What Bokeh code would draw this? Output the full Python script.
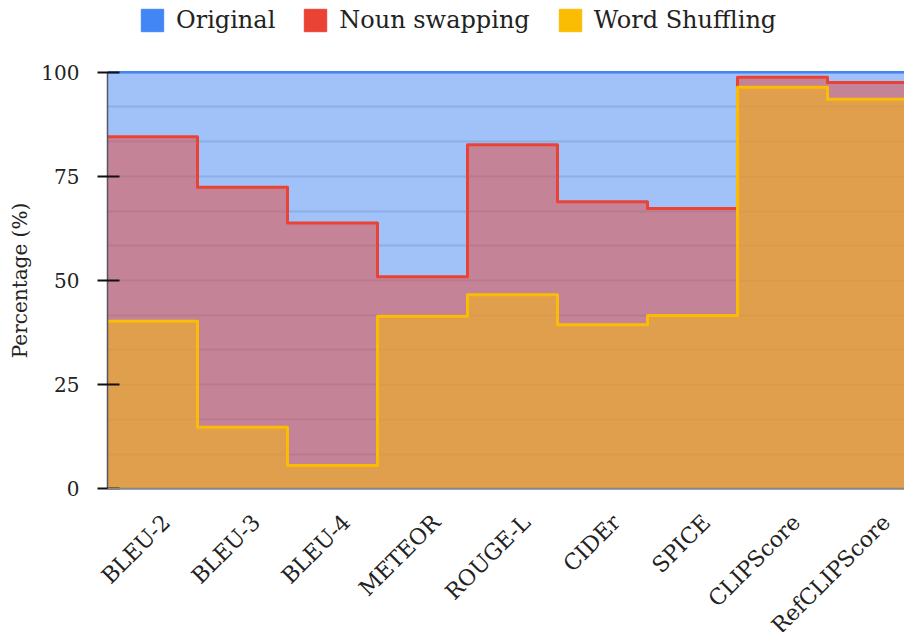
import math
from bokeh.plotting import figure
from bokeh.layouts import column
from bokeh.models import (ColumnDataSource, FixedTicker, Legend, LegendItem, Range1d, Span)
from bokeh.embed import file_html
from bokeh.resources import INLINE

categories = ["BLEU-2", "BLEU-3", "BLEU-4", "METEOR", "ROUGE-L", "CIDEr", "SPICE", "CLIPScore", "RefCLIPScore"]
original = [100, 100, 100, 100, 100, 100, 100, 100, 100]
noun_swapping = [84.5, 72.4, 63.8, 50.9, 82.6, 68.9, 67.3, 98.8, 97.5]
word_shuffling = [40.2, 14.8, 5.6, 41.4, 46.6, 39.4, 41.6, 96.4, 93.5]
y_ticks = [0, 25, 50, 75, 100]

BLUE = "#4285F4"
RED = "#EA4335"
YELLOW = "#FBBC04"
FONT = "DejaVu Serif"
TEXT = "#222222"

n = len(categories)
edges = list(range(n + 1))
BAND_PX = 90.0
X_END = 797 / BAND_PX


def stepped(vals):
    return list(vals) + [vals[-1]]


src = ColumnDataSource(dict(
    x=edges,
    zero=[0] * (n + 1),
    orig=stepped(original),
    noun=stepped(noun_swapping),
    shuf=stepped(word_shuffling),
))

# ---------------- legend strip ----------------
leg_fig = figure(width=904, height=40, output_backend="svg", toolbar_location=None,
                 x_range=Range1d(0, X_END), y_range=Range1d(0, 1),
                 min_border_left=107, min_border_right=0, min_border_top=0, min_border_bottom=0)
leg_fig.axis.visible = False
leg_fig.grid.visible = False
leg_fig.outline_line_color = None
leg_r = []
for c, col in zip((BLUE, RED, YELLOW), ("orig", "noun", "shuf")):
    r = leg_fig.quad(source=src, left="x", right="x", top=col, bottom="zero",
                     fill_color=c, line_color=c)
    r.visible = False  # proxy: only its legend swatch is shown
    leg_r.append(r)
legend = Legend(items=[LegendItem(label="Original", renderers=[leg_r[0]]),
                       LegendItem(label="Noun swapping", renderers=[leg_r[1]]),
                       LegendItem(label="Word Shuffling", renderers=[leg_r[2]])],
                orientation="horizontal", location=(31, 6),
                glyph_width=28, glyph_height=28, label_standoff=10, spacing=26,
                padding=0, margin=0, border_line_color=None, background_fill_alpha=0,
                inactive_fill_alpha=0, click_policy="none",
                label_text_font=FONT, label_text_font_size="24px",
                label_text_color=TEXT)
leg_fig.add_layout(legend, "center")

# ---------------- main chart ----------------
p = figure(width=904, height=616, output_backend="svg", toolbar_location=None,
           x_range=Range1d(0, X_END), y_range=Range1d(-0.4, 100.4),
           min_border_left=107, min_border_right=0, min_border_top=30, min_border_bottom=166)
p.outline_line_color = None
p.background_fill_color = "white"

p.varea_step(x="x", y1="zero", y2="orig", step_mode="after", source=src,
             fill_color=BLUE, fill_alpha=0.5)
p.varea_step(x="x", y1="zero", y2="noun", step_mode="after", source=src,
             fill_color=RED, fill_alpha=0.5)
p.varea_step(x="x", y1="zero", y2="shuf", step_mode="after", source=src,
             fill_color=YELLOW, fill_alpha=0.5)

p.step(x="x", y="orig", mode="after", source=src, line_color=BLUE, line_width=2.5,
       line_join="round")
p.step(x="x", y="noun", mode="after", source=src, line_color=RED, line_width=3,
       line_join="round")
p.step(x="x", y="shuf", mode="after", source=src, line_color=YELLOW, line_width=3,
       line_join="round")

p.add_layout(Span(location=0, dimension="width", line_color="#888888", line_width=2))

label_pos = [i + 0.655 for i in range(n)]
p.xaxis.ticker = FixedTicker(ticks=label_pos)
p.xaxis.major_label_overrides = {x: c for x, c in zip(label_pos, categories)}
p.xaxis.major_label_orientation = math.pi / 4
p.xaxis.major_tick_line_color = None
p.xaxis.minor_tick_line_color = None
p.xaxis.major_tick_out = 0
p.xaxis.major_tick_in = 0
p.xaxis.axis_line_color = None
p.xaxis.major_label_text_font = FONT
p.xaxis.major_label_text_font_size = "22px"
p.xaxis.major_label_text_color = TEXT
p.xaxis.major_label_standoff = 28
p.xgrid.grid_line_color = None

p.yaxis.ticker = FixedTicker(ticks=y_ticks)
p.yaxis.bounds = (0, 100)
p.yaxis.minor_tick_line_color = None
p.yaxis.major_tick_out = 10
p.yaxis.major_tick_in = 12
p.yaxis.major_tick_line_color = "#111111"
p.yaxis.major_tick_line_width = 2
p.yaxis.axis_line_color = "#555566"
p.yaxis.axis_line_width = 1.5
p.yaxis.major_label_text_font = FONT
p.yaxis.major_label_text_font_size = "20px"
p.yaxis.major_label_text_color = TEXT
p.yaxis.major_label_standoff = 18
p.yaxis.axis_label = "Percentage (%)"
p.yaxis.axis_label_text_font = FONT
p.yaxis.axis_label_text_font_size = "20px"
p.yaxis.axis_label_text_font_style = "normal"
p.yaxis.axis_label_text_color = TEXT
p.yaxis.axis_label_standoff = 6

p.ygrid.ticker = FixedTicker(ticks=[i * 25 / 3 for i in range(13)])
p.ygrid.grid_line_color = "#d8d8d8"
p.ygrid.grid_line_width = 2

layout = column(leg_fig, p, spacing=0)
open("out.html", "w").write(file_html(layout, INLINE))
